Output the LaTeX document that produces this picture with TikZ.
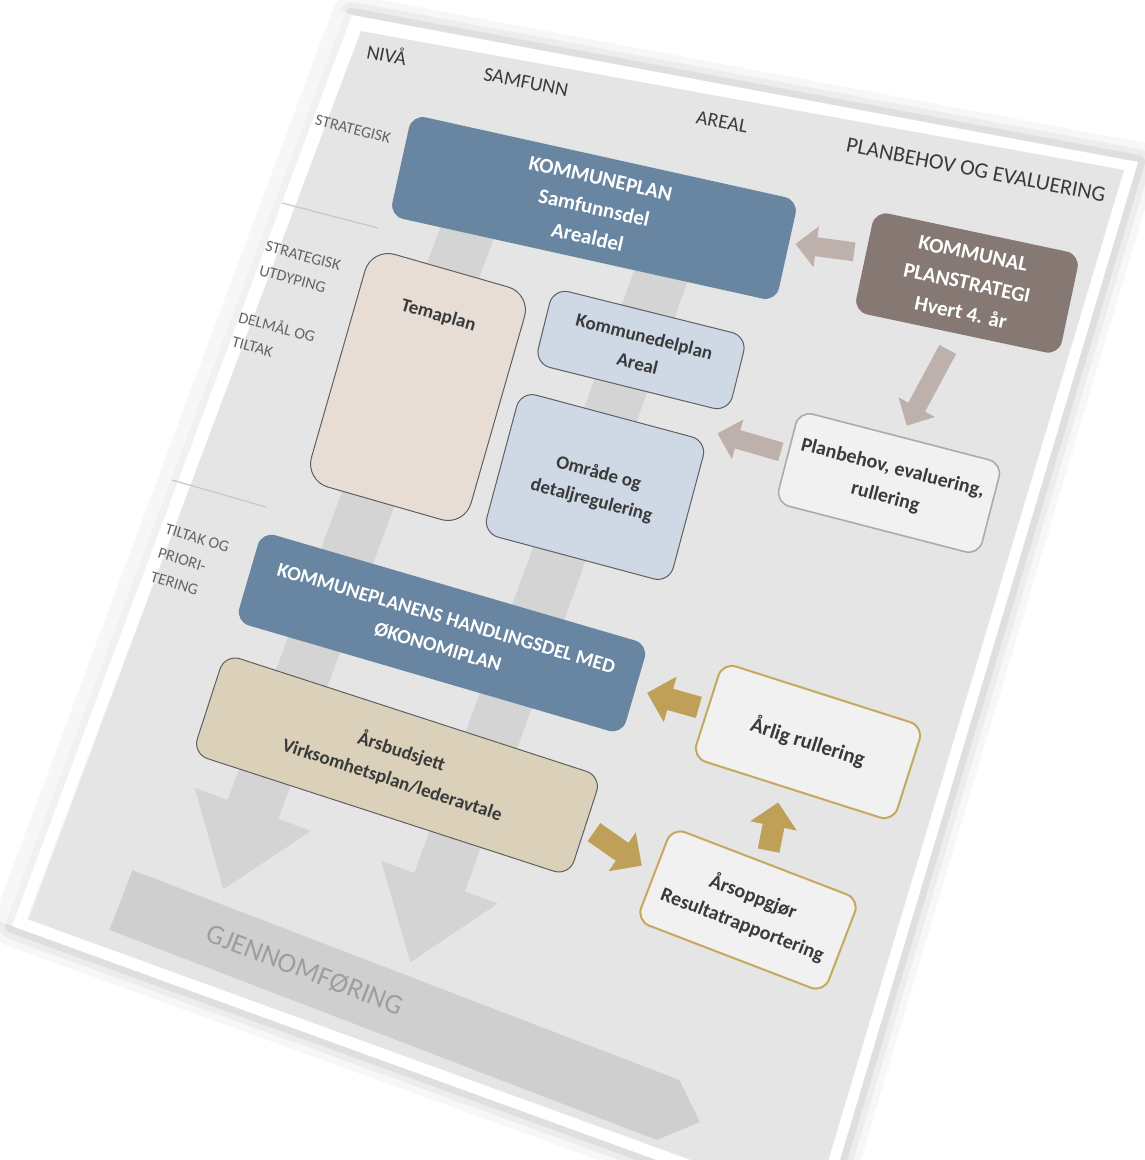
\documentclass[tikz,border=0pt]{standalone}
\usepackage{fontspec}
\setmainfont{Carlito}
\usetikzlibrary{arrows.meta}

\definecolor{planblue}{RGB}{104,134,161}
\definecolor{stratbrown}{RGB}{134,121,116}
\definecolor{temafill}{RGB}{231,221,213}
\definecolor{arealfill}{RGB}{206,217,229}
\definecolor{budsjettfill}{RGB}{219,209,186}
\definecolor{behovfill}{RGB}{241,241,241}
\definecolor{behovline}{RGB}{180,168,162}
\definecolor{goldline}{RGB}{198,168,94}
\definecolor{goldarrow}{RGB}{190,160,88}
\definecolor{arrowbrown}{RGB}{190,176,170}
\definecolor{stripgray}{RGB}{212,212,212}
\definecolor{panelgray}{RGB}{229,229,229}
\definecolor{boxline}{RGB}{95,95,95}
\definecolor{labeltext}{RGB}{58,58,58}
\definecolor{sidetext}{RGB}{100,100,100}
\definecolor{sepcolor}{RGB}{206,199,182}
\definecolor{bandgray}{RGB}{207,207,207}
\definecolor{bandtext}{RGB}{158,158,158}

\begin{document}
\begin{tikzpicture}[x=1pt, y=-1pt,
    planbox/.style={rectangle, rounded corners=14pt, fill=planblue, text=white, align=center, inner sep=0pt, font=\fontsize{21}{30}\selectfont\bfseries},
    stratbox/.style={rectangle, rounded corners=14pt, fill=stratbrown, text=white, align=center, inner sep=0pt, font=\fontsize{21}{30}\selectfont\bfseries},
    temabox/.style={rectangle, rounded corners=24pt, draw=boxline, line width=1pt, fill=temafill, text=labeltext, font=\fontsize{19}{28}\selectfont\bfseries},
    arealbox/.style={rectangle, rounded corners=16pt, draw=boxline, line width=1pt, fill=arealfill, text=labeltext, align=center, inner sep=0pt, font=\fontsize{19}{28}\selectfont\bfseries},
    behovbox/.style={rectangle, rounded corners=14pt, draw=behovline, line width=1.6pt, fill=behovfill, text=labeltext, align=center, inner sep=0pt, font=\fontsize{20}{30}\selectfont\bfseries},
    budsjettbox/.style={rectangle, rounded corners=16pt, draw=boxline, line width=1pt, fill=budsjettfill, text=labeltext, align=center, inner sep=0pt, font=\fontsize{19}{30}\selectfont\bfseries},
    goldbox/.style={rectangle, rounded corners=14pt, draw=goldline, line width=2pt, fill=behovfill, text=labeltext, align=center, inner sep=0pt, font=\fontsize{20}{30}\selectfont\bfseries},
    header/.style={text=labeltext, font=\fontsize{20}{24}\selectfont},
    sidelabel/.style={text=sidetext, align=left, font=\fontsize{16}{25}\selectfont},
    sepline/.style={draw=sepcolor, line width=1.2pt},
    column/.style={draw=stripgray, line width=54pt, -{Triangle[length=86pt, width=118pt]}},
    brownblock/.style={draw=arrowbrown, line width=19pt, -{Triangle[length=21pt, width=40pt]}},
    goldblock/.style={draw=goldarrow, line width=22pt, -{Triangle[length=24pt, width=46pt]}}
]
\useasboundingbox (0,0) rectangle (1145,1160);
\clip (0,0) rectangle (1145,1160);

\coordinate (pnw) at (352,15);
\coordinate (pne) at (1138,162);
\coordinate (pse) at (822,1220);
\coordinate (psw) at (12,926);
\draw[line width=40pt, black, opacity=0.03, line join=round, shift={(10,10)}] (pnw) -- (pne) -- (pse) -- (psw) -- cycle;
\draw[line width=26pt, black, opacity=0.04, line join=round, shift={(8,8)}] (pnw) -- (pne) -- (pse) -- (psw) -- cycle;
\draw[line width=14pt, black, opacity=0.06, line join=round, shift={(5,5)}] (pnw) -- (pne) -- (pse) -- (psw) -- cycle;
\fill[white] (pnw) -- (pne) -- (pse) -- (psw) -- cycle;
\fill[panelgray] (361,31) -- (1124,170) -- (815,1205) -- (27,919) -- cycle;
\draw[white, line width=26pt, opacity=0.55] (psw) -- (pnw);

\coordinate (sepa1) at (282,203);
\coordinate (sepa2) at (378,228);
\draw[sepline] (sepa1) -- (sepa2);
\coordinate (sepb1) at (172,480);
\coordinate (sepb2) at (266,507);
\draw[sepline] (sepb1) -- (sepb2);

\begin{scope}[shift={(121,900)}, rotate=-21]
\fill[bandgray] (0,-32) -- (586,-32) -- (620,0) -- (586,32) -- (0,32) -- cycle;
\end{scope}
\node (gjennom) [rotate=-21, text=bandtext, font=\fontsize{28}{30}\selectfont] at (305,970) {GJENNOMFØRING};

\coordinate (colAtop) at (470,225);
\coordinate (colAtip) at (223,890);
\coordinate (colBtop) at (665,265);
\coordinate (colBtip) at (410,963);
\draw[column] (colAtop) -- (colAtip);
\draw[column] (colBtop) -- (colBtip);

\node (niva) [header, rotate=-11] at (387,54) {NIVÅ};
\node (samfunn) [header, rotate=-11] at (526,82) {SAMFUNN};
\node (areal) [header, rotate=-11] at (722,122) {AREAL};
\node (behov) [header, rotate=-11, font=\fontsize{22}{24}\selectfont] at (976,170) {PLANBEHOV OG EVALUERING};

\node (strat) [sidelabel, rotate=-14] at (353,129) {STRATEGISK};
\node (utdyp) [sidelabel, rotate=-15] at (300,268) {STRATEGISK\\UTDYPING};
\node (delmal) [sidelabel, rotate=-15] at (274,338) {DELMÅL OG\\TILTAK};
\node (tiltak) [sidelabel, rotate=-17] at (190,562) {TILTAK OG\\PRIORI-\\TERING};

\node (kplan) [planbox, rotate=-12.5, minimum width=396pt, minimum height=104pt] at (594,208) {KOMMUNEPLAN\\Samfunnsdel\\Arealdel};
\node (kps) [stratbox, rotate=-12, minimum width=210pt, minimum height=103pt] at (967,283) {KOMMUNAL\\PLANSTRATEGI\\Hvert 4. år};
\node (tema) [temabox, rotate=-16, minimum width=166pt, inner xsep=0pt, inner ysep=38pt, text height=14pt, text depth=152pt] at (418,387) {Temaplan};
\node (kdel) [arealbox, rotate=-14, minimum width=200pt, minimum height=78pt] at (641,350) {Kommunedelplan\\Areal};
\node (omr) [arealbox, rotate=-15, minimum width=193pt, minimum height=147pt] at (595,487) {Område og\\detaljregulering};
\node (plb) [behovbox, rotate=-14.5, minimum width=210pt, minimum height=95pt] at (889,483) {Planbehov, evaluering,\\rullering};
\node (kphd) [planbox, rotate=-16.3, minimum width=403pt, minimum height=94pt, font=\fontsize{20}{30}\selectfont\bfseries] at (442,633) {KOMMUNEPLANENS HANDLINGSDEL MED\\ØKONOMIPLAN};
\node (arsb) [budsjettbox, rotate=-18, minimum width=396pt, minimum height=105pt] at (397,765) {Årsbudsjett\\Virksomhetsplan/lederavtale};
\node (arlig) [goldbox, rotate=-17.7, minimum width=211pt, minimum height=100pt, font=\fontsize{21}{30}\selectfont\bfseries] at (808,742) {Årlig rullering};
\node (arso) [goldbox, rotate=-21, minimum width=201pt, minimum height=100pt] at (748,910) {Årsoppgjør\\Resultatrapportering};

\draw[brownblock, shorten <=10pt, shorten >=8pt] ([yshift=8pt]kps.west) -- ([yshift=8pt]kplan.east);
\draw[brownblock, shorten <=18pt, shorten >=12pt] (kps.south) -- (plb.north);
\draw[brownblock, shorten <=6pt, shorten >=10pt] ([yshift=3pt]plb.west) -- ([yshift=10pt]omr.north east);
\draw[goldblock, shorten <=8pt, shorten >=12pt] (arlig.west) -- (kphd.east);
\draw[goldblock, shorten <=10pt, shorten >=14pt] (arsb.east) -- (arso.west);
\draw[goldblock, shorten <=12pt, shorten >=12pt] (arso.north) -- ([xshift=-12pt]arlig.south);

\end{tikzpicture}
\end{document}
